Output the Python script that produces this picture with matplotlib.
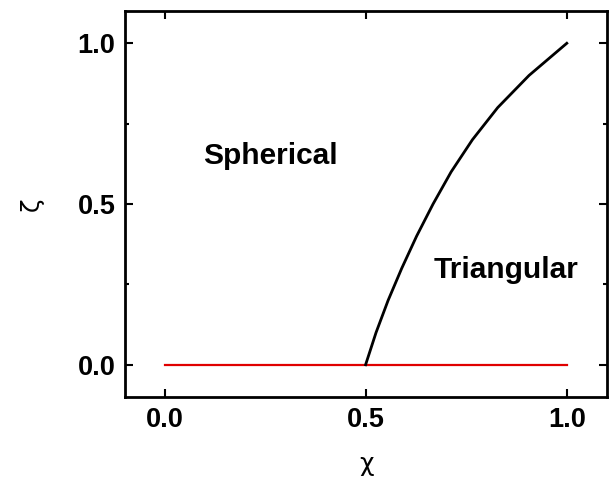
import matplotlib
matplotlib.use('Agg')
import matplotlib.pyplot as plt
from matplotlib.ticker import MultipleLocator

# phase boundary
chi_line = [0.499, 0.525, 0.555, 0.589, 0.626, 0.667, 0.712, 0.765, 0.828, 0.906, 1.0]
zeta_line = [0.0, 0.1, 0.2, 0.3, 0.4, 0.5, 0.6, 0.7, 0.8, 0.9, 1.0]

# red line at zeta = 0
chi_flat = [0.0, 1.0]
zeta_flat = [0.0, 0.0]

plt.rcParams['font.family'] = ['Liberation Sans', 'DejaVu Sans']

fig = plt.figure(figsize=(6.1, 4.84), dpi=100)
ax = fig.add_axes([0.205, 0.18, 0.79, 0.797])

ax.plot(chi_flat, zeta_flat, color='#e00000', lw=1.6)
ax.plot(chi_line, zeta_line, color='black', lw=2.0, solid_joinstyle='round')

ax.set_xlim(-0.1, 1.1)
ax.set_ylim(-0.1, 1.1)
ax.xaxis.set_major_locator(MultipleLocator(0.5))
ax.yaxis.set_major_locator(MultipleLocator(0.5))
ax.yaxis.set_minor_locator(MultipleLocator(0.25))
ax.tick_params(which='both', direction='in', top=True, right=True, width=1.5)
ax.tick_params(which='major', length=6, labelsize=19.5, pad=7)
ax.tick_params(which='minor', length=3)
for lab in ax.get_xticklabels() + ax.get_yticklabels():
    lab.set_fontweight('bold')
ax.xaxis.set_major_formatter(plt.FormatStrFormatter('%.1f'))
ax.yaxis.set_major_formatter(plt.FormatStrFormatter('%.1f'))
for sp in ax.spines.values():
    sp.set_linewidth(2)

ax.set_xlabel('χ', fontsize=18, labelpad=14, family='DejaVu Sans')
ax.set_ylabel('ζ', fontsize=18, labelpad=24, family='DejaVu Sans')

ax.text(0.262, 0.65, 'Spherical', fontsize=21.5, fontweight='bold', ha='center', va='center')
ax.text(0.848, 0.295, 'Triangular', fontsize=21.5, fontweight='bold', ha='center', va='center')

fig.savefig('out.png', dpi=100)
